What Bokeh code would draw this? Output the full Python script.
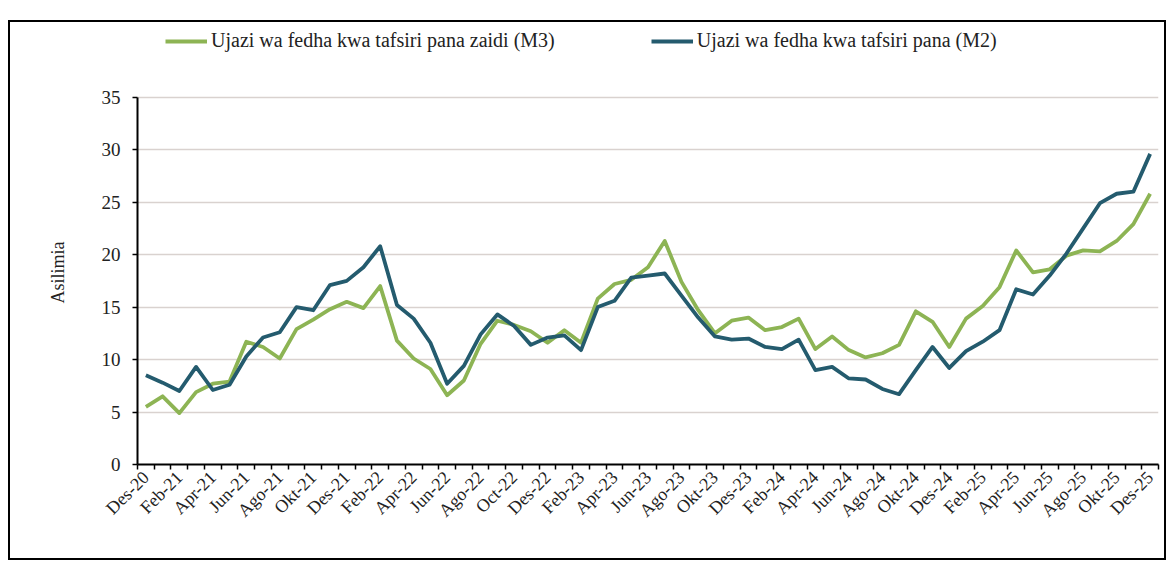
from bokeh.plotting import figure
from bokeh.models import FixedTicker, Range1d, Legend, LegendItem, Title
from bokeh.embed import file_html
from bokeh.resources import INLINE

# ---- data (percent, monthly Des-20 .. Des-25) ----
tick_labels = ["Des-20", "Feb-21", "Apr-21", "Jun-21", "Ago-21", "Okt-21", "Des-21",
               "Feb-22", "Apr-22", "Jun-22", "Ago-22", "Oct-22", "Des-22",
               "Feb-23", "Apr-23", "Jun-23", "Ago-23", "Okt-23", "Des-23",
               "Feb-24", "Apr-24", "Jun-24", "Ago-24", "Okt-24", "Des-24",
               "Feb-25", "Apr-25", "Jun-25", "Ago-25", "Okt-25", "Des-25"]

m3 = [5.5, 6.5, 4.9, 6.9, 7.7, 7.9, 11.7, 11.2, 10.1, 12.9, 13.8, 14.8, 15.5, 14.9, 17.0,
      11.8, 10.1, 9.1, 6.6, 8.0, 11.5, 13.7, 13.3, 12.7, 11.6, 12.8, 11.6, 15.8, 17.2, 17.6,
      18.8, 21.3, 17.4, 14.7, 12.5, 13.7, 14.0, 12.8, 13.1, 13.9, 11.0, 12.2, 10.9, 10.2,
      10.6, 11.4, 14.6, 13.6, 11.2, 13.9, 15.1, 16.9, 20.4, 18.3, 18.6, 19.9, 20.4, 20.3,
      21.3, 22.9, 25.8]

m2 = [8.5, 7.8, 7.0, 9.3, 7.1, 7.6, 10.3, 12.1, 12.6, 15.0, 14.7, 17.1, 17.5, 18.8, 20.8,
      15.2, 13.9, 11.6, 7.7, 9.4, 12.4, 14.3, 13.2, 11.4, 12.1, 12.3, 10.9, 15.0, 15.6, 17.8,
      18.0, 18.2, 16.1, 14.0, 12.2, 11.9, 12.0, 11.2, 11.0, 11.9, 9.0, 9.3, 8.2, 8.1,
      7.2, 6.7, 9.0, 11.2, 9.2, 10.8, 11.7, 12.8, 16.7, 16.2, 18.0, 20.1, 22.5, 24.9,
      25.8, 26.0, 29.6]

y_ticks = [0, 5, 10, 15, 20, 25, 30, 35]

label_m3 = "Ujazi wa fedha kwa tafsiri pana zaidi (M3)"
label_m2 = "Ujazi wa fedha kwa tafsiri pana (M2)"
y_title = "Asilimia"

x = list(range(len(m3)))
n = len(x)

FONT = "Liberation Serif"
GREEN = "#8DB454"
TEAL = "#245B6E"
TXT = "#222222"

# frame: canvas y 4 .. 442 ; value 35 must sit 367.3 px above 0
Y_TOP = 438 / (367.3 / 35)

p = figure(width=1158, height=540, output_backend="svg", toolbar_location=None,
           x_range=Range1d(-0.5, n - 0.5), y_range=Range1d(0, Y_TOP),
           min_border_left=127, min_border_right=10, min_border_top=4, min_border_bottom=98)
p.styles = {"border": "2px solid black", "margin-top": "20px", "margin-left": "8px"}
p.outline_line_color = None
p.background_fill_color = "white"
p.border_fill_color = "white"

r3 = p.line(x, m3, line_color=GREEN, line_width=3.8, line_join="round")
r2 = p.line(x, m2, line_color=TEAL, line_width=3.8, line_join="round")

# x axis: labels every second month, tick marks on category boundaries
label_pos = list(range(0, n, 2))
p.xaxis.ticker = FixedTicker(ticks=label_pos, minor_ticks=[i - 0.5 for i in range(n + 1)])
p.xaxis.major_label_overrides = {pos: lab for pos, lab in zip(label_pos, tick_labels)}
p.xaxis.major_label_orientation = 0.785398
p.xaxis.major_tick_line_color = None
p.xaxis.minor_tick_line_color = "black"
p.xaxis.minor_tick_line_width = 1.5
p.xaxis.minor_tick_out = 5
p.xaxis.minor_tick_in = 0
p.xaxis.axis_line_color = "black"
p.xaxis.axis_line_width = 2
p.xaxis.major_label_text_font = FONT
p.xaxis.major_label_text_font_size = "18px"
p.xaxis.major_label_text_color = TXT
p.xaxis.major_label_standoff = 4

p.yaxis.ticker = FixedTicker(ticks=y_ticks)
p.yaxis.bounds = (0, 35)
p.yaxis.minor_tick_line_color = None
p.yaxis.major_tick_out = 5
p.yaxis.major_tick_in = 0
p.yaxis.major_tick_line_width = 1.5
p.yaxis.axis_line_color = "black"
p.yaxis.axis_line_width = 2
p.yaxis.major_label_text_font = FONT
p.yaxis.major_label_text_font_size = "19px"
p.yaxis.major_label_text_color = TXT
p.yaxis.major_label_standoff = 12

# y-axis title, centred on the 0..35 span of the axis
p.add_layout(Title(text=y_title, align="left", offset=161, standoff=61,
                   text_font=FONT, text_font_style="normal", text_font_size="18px",
                   text_color=TXT), "left")

p.xgrid.grid_line_color = None
p.ygrid.ticker = FixedTicker(ticks=y_ticks[1:])
p.ygrid.grid_line_color = "#D9D2CF"
p.ygrid.grid_line_width = 1.5

legend = Legend(items=[LegendItem(label=label_m3, renderers=[r3]),
                       LegendItem(label=label_m2, renderers=[r2])],
                orientation="horizontal", location=(28, 412),
                padding=0, margin=0, spacing=96, glyph_width=42, glyph_height=20,
                label_standoff=4, border_line_color=None, background_fill_alpha=0,
                label_text_font=FONT, label_text_font_size="20px",
                label_text_color=TXT)
p.add_layout(legend)

open("out.html", "w").write(file_html(p, INLINE))
